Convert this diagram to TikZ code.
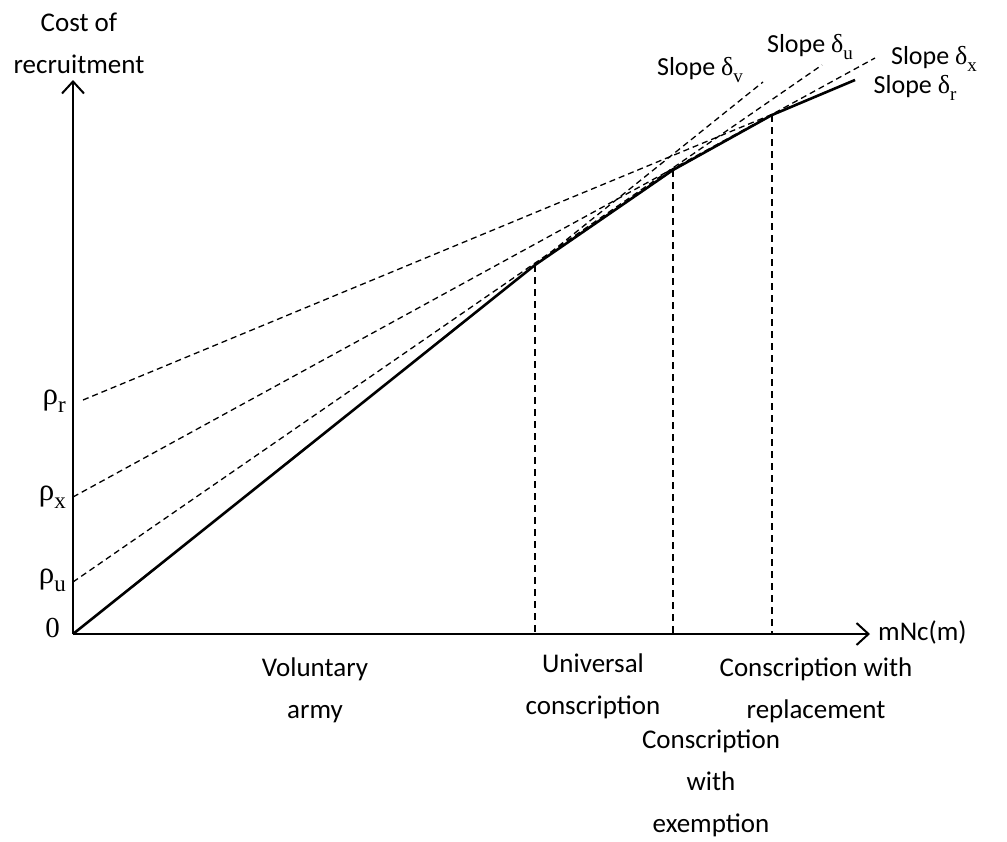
\documentclass[tikz,border=0pt]{standalone}
\usepackage{fontspec}
\setmainfont{Carlito}
\newfontfamily\grk{Liberation Serif}
\usetikzlibrary{arrows.meta}
\newcommand{\gsym}[2]{{\grk #1\raisebox{-0.28em}{\fontsize{19}{19}\selectfont #2}}}
\newcommand{\rsym}[2]{{\grk\fontsize{31}{31}\selectfont #1\raisebox{-0.25em}{\fontsize{23}{23}\selectfont #2}}}
\begin{document}
\begin{tikzpicture}[x=1pt,y=-1pt,
  lbl/.style={font=\fontsize{27}{42}\selectfont, align=center, inner sep=0pt},
  slbl/.style={font=\fontsize{26}{30}\selectfont, inner sep=0pt},
  axis/.style={line width=2.2pt, -{Straight Barb[length=12pt,width=22pt,line width=2pt]}},
  curve/.style={line width=2.6pt, line join=miter},
  guide/.style={line width=1.3pt, dash pattern=on 6pt off 4pt},
  vguide/.style={line width=1.5pt, dash pattern=on 7pt off 5pt}]
\useasboundingbox (0,0) rectangle (1007,841);
% key points
\coordinate (O) at (73,634);
\coordinate (Ytop) at (73,80);
\coordinate (Xend) at (870,634);
\coordinate (K1) at (535,265);
\coordinate (K2) at (673,170);
\coordinate (K3) at (772,115);
\coordinate (E) at (855,80);
\coordinate (B1) at (535,634);
\coordinate (B2) at (673,634);
\coordinate (B3) at (772,634);
\coordinate (Rr) at (83,400);
\coordinate (Rx) at (73,497);
\coordinate (Ru) at (73,582);
\coordinate (Dx) at (875,58);
\coordinate (Du) at (822,65);
\coordinate (Dv) at (763,82);
% guides
\draw[guide] (Rr) -- (E);
\draw[guide] (Rx) -- (Dx);
\draw[guide] (Ru) -- (Du);
\draw[guide] (K1) -- (Dv);
\draw[vguide] (K1) -- (B1);
\draw[vguide] (K2) -- (B2);
\draw[vguide] (K3) -- (B3);
% axes
\draw[axis] (O) -- (Ytop);
\draw[axis] (O) -- (Xend);
% cost curve
\draw[curve] (O) -- (K1) -- (K2) -- (K3) -- (E);
% labels
\node[lbl] (ylab) at (79,43) {Cost of\\recruitment};
\node[lbl, anchor=west] (xlab) at (878,632) {mNc(m)};
\node[lbl, anchor=east] (z0) at (60,628) {\grk\fontsize{29}{29}\selectfont 0};
\node[lbl, anchor=east] (lr) at (66,401) {\rsym{ρ}{r}};
\node[lbl, anchor=east] (lx) at (66,497) {\rsym{ρ}{x}};
\node[lbl, anchor=east] (lu) at (66,580) {\rsym{ρ}{u}};
\node[slbl] (sv) at (700,70) {Slope \gsym{δ}{v}};
\node[slbl] (su) at (810,47) {Slope \gsym{δ}{u}};
\node[slbl] (sx) at (934,59) {Slope \gsym{δ}{x}};
\node[slbl] (sr) at (915,88) {Slope \gsym{δ}{r}};
\node[lbl] (vol) at (315,690) {Voluntary\\army};
\node[lbl] (uni) at (593,686) {Universal\\conscription};
\node[lbl] (rep) at (816,690) {Conscription with\\replacement};
\node[lbl] (exe) at (711,783) {Conscription\\with\\exemption};
\end{tikzpicture}
\end{document}
